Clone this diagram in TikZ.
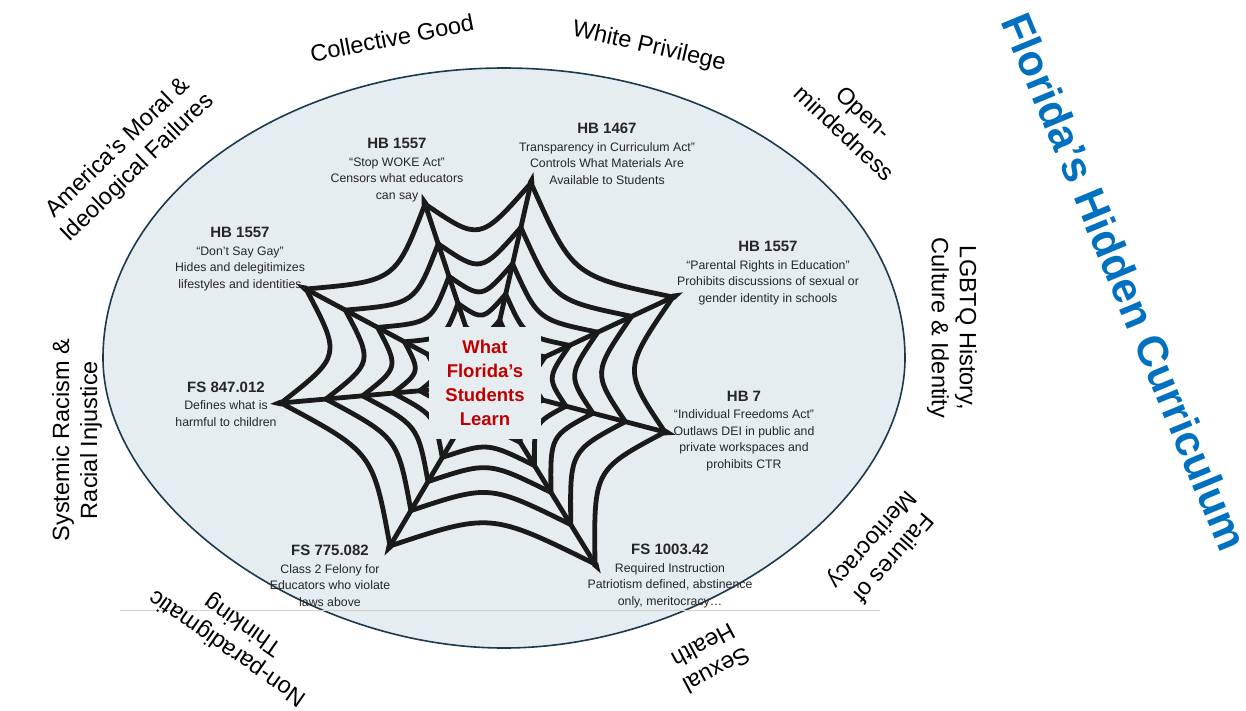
\documentclass[tikz,border=0pt]{standalone}
\usepackage{fontspec}
\setmainfont{Liberation Sans}
\usetikzlibrary{calc}
\definecolor{ellfill}{HTML}{E6EDF1}
\definecolor{elldraw}{HTML}{1C3A4E}
\definecolor{titleblue}{HTML}{0070C0}
\definecolor{centerred}{HTML}{C00000}
\definecolor{webblack}{HTML}{1A1A1A}
\definecolor{lawtext}{HTML}{262626}
\newcommand{\lawhead}[1]{{\fontsize{15}{18}\selectfont\bfseries #1}\\[1pt]}
\begin{document}
\begin{tikzpicture}[x=1pt,y=-1pt,
  law/.style={align=center, font=\fontsize{12.3}{16.5}\selectfont, text=lawtext, inner sep=0pt},
  outer/.style={align=center, font=\fontsize{23.5}{28}\selectfont, inner sep=0pt},
  web/.style={line width=4.8pt, draw=webblack, line cap=round, line join=round}]
\useasboundingbox (0,0) rectangle (1246,710);
\fill[white] (0,0) rectangle (1246,710);
% egg-shaped ellipse (narrower at the bottom)
\filldraw[fill=ellfill, draw=elldraw, line width=1.6pt]
  (103,358) .. controls (103,198) and (282.5,68) .. (504,68)
  .. controls (725.5,68) and (905,198) .. (905,358)
  .. controls (905,503) and (704.5,648) .. (504,648)
  .. controls (303.5,648) and (103,503) .. cycle;
\draw[black!18, line width=0.8pt] (120,610) -- (880,610);
% web
\coordinate (C) at (485,385);
\coordinate (T1) at (425,204);
\coordinate (T2) at (531,183);
\coordinate (T3) at (673,297);
\coordinate (T4) at (665,432);
\coordinate (T5) at (595,564);
\coordinate (T6) at (390,546);
\coordinate (T7) at (281,403);
\coordinate (T8) at (306,289);
\foreach \i/\j in {1/2,2/3,3/4,4/5,5/6,6/7,7/8,8/1}
  \coordinate (M\i) at ($(T\i)!0.5!(T\j)$);
\foreach \i in {1,...,8} {
  \draw[web] (C) -- (T\i);
  \fill[webblack] ($(T\i)!-11pt!(C)$) -- ($(T\i)!3.5pt!90:(C)$) -- ($(T\i)!3.5pt!-90:(C)$) -- cycle;
}
\foreach \r [evaluate=\r as \s using 0.75*\r] in {1,0.78,0.6,0.45,0.32} {
  \foreach \i/\j in {1/2,2/3,3/4,4/5,5/6,6/7,7/8,8/1}
    \draw[web] ($(C)!\r!(T\i)$) .. controls ($(C)!\s!(M\i)$) .. ($(C)!\r!(T\j)$);
}
% centre
\node[fill=ellfill, minimum width=112pt, minimum height=112pt, inner sep=0pt,
      align=center, text=centerred, font=\fontsize{18.5}{24}\selectfont\bfseries]
  (learn) at (485,383) {What\\Florida’s\\Students\\Learn};
% laws
\node[law] (stopwoke) at (397,170) {\lawhead{HB 1557}“Stop WOKE Act”\\Censors what educators\\can say};
\node[law] (hb1467) at (607,154) {\lawhead{HB 1467}Transparency in Curriculum Act”\\Controls What Materials Are\\Available to Students};
\node[law] (dontsay) at (240,259) {\lawhead{HB 1557}“Don’t Say Gay”\\Hides and delegitimizes\\lifestyles and identities};
\node[law] (parental) at (768,273) {\lawhead{HB 1557}“Parental Rights in Education”\\Prohibits discussions of sexual or\\gender identity in schools};
\node[law] (fs847) at (226,404) {\lawhead{FS 847.012}Defines what is\\harmful to children};
\node[law] (hb7) at (744,431) {\lawhead{HB 7}“Individual Freedoms Act”\\Outlaws DEI in public and\\private workspaces and\\prohibits CTR};
\node[law] (fs775) at (330,576) {\lawhead{FS 775.082}Class 2 Felony for\\Educators who violate\\laws above};
\node[law] (fs1003) at (670,576) {\lawhead{FS 1003.42}Required Instruction\\Patriotism defined, abstinence\\only, meritocracy…};
% outer labels
\node[outer, rotate=11] (collective) at (392,38) {Collective Good};
\node[outer, rotate=-13] (white) at (649,47) {White Privilege};
\node[outer, rotate=-43] (open) at (854,123) {Open-\\mindedness};
\node[outer, rotate=-90] (lgbtq) at (952,328) {LGBTQ History,\\Culture \& Identity};
\node[outer, rotate=-131] (merit) at (882,548) {Failures of\\Meritocracy};
\node[outer, rotate=-152] (sexual) at (710,658) {Sexual\\Health};
\node[outer, rotate=145] (nonpar) at (236,636) {Non-paradigmatic\\Thinking};
\node[outer, rotate=90] (racism) at (77,440) {Systemic Racism \&\\Racial Injustice};
\node[outer, rotate=44] (america) at (128,158) {America’s Moral \&\\Ideological Failures};
% title
\node[rotate=-67.5, text=titleblue, font=\fontsize{43}{50}\selectfont\bfseries, inner sep=0pt]
  (title) at (1125,282) {Florida’s Hidden Curriculum};
\end{tikzpicture}
\end{document}
